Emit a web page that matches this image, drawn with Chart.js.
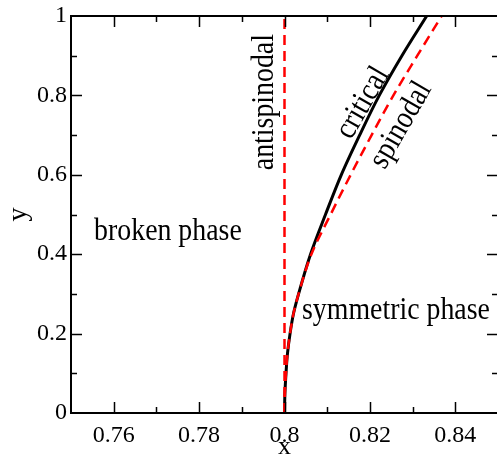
<!DOCTYPE html>
<html>
<head>
<meta charset="utf-8">
<script src="https://cdn.jsdelivr.net/npm/chart.js@4"></script>
<style>
  html, body { margin: 0; padding: 0; background: #fff; overflow: hidden; }
  #box { width: 499px; height: 455px; position: relative; }
</style>
</head>
<body>
<div id="box"><canvas id="grafico"></canvas></div>
<script>
// dados
const valoresY = [0, 0.05, 0.1, 0.15, 0.2, 0.25, 0.3, 0.4, 0.5, 0.6, 0.7, 0.8, 0.9, 1.0];
const criticoX = [0.8000, 0.8001, 0.80035, 0.8007, 0.8013, 0.8021, 0.8033, 0.8061, 0.8096, 0.8133, 0.8176, 0.8222, 0.8275, 0.8333];
const spinodalX = [0.8000, 0.8001, 0.80035, 0.8007, 0.8013, 0.8021, 0.8033, 0.8063, 0.8108, 0.8155, 0.8204, 0.8255, 0.8311, 0.8368];
const antiX = [0.8, 0.8];
const antiY = [0, 1];

// rotulos dentro do grafico (texto, x, y, angulo)
const rotulos = [
  ["broken phase", 0.7727, 0.458, 0],
  ["symmetric phase", 0.8261, 0.257, 0],
  ["antispinodal", 0.7954, 0.783, -90],
  ["critical", 0.8184, 0.781, -60],
  ["spinodal", 0.8273, 0.725, -60]
];

const fonte = "'Liberation Serif', 'Times New Roman', serif";

function pontos(xs, ys) {
  return xs.map((x, i) => ({ x: x, y: ys[i] }));
}

// moldura, marcas para dentro e rotulos
const extras = {
  id: 'extras',
  afterDatasetsDraw(chart) {
    const ctx = chart.ctx;
    const a = chart.chartArea;
    const sx = chart.scales.x;
    const sy = chart.scales.y;
    ctx.save();
    ctx.strokeStyle = '#000';
    ctx.lineWidth = 1.5;
    sx.ticks.forEach(t => {
      const r = Math.round(t.value * 100);
      if (r <= 75 || r >= 85) return;
      const len = r % 2 === 0 ? 11 : 6;
      const px = Math.round(sx.getPixelForValue(t.value)) + 0.5;
      ctx.beginPath();
      ctx.moveTo(px, a.bottom); ctx.lineTo(px, a.bottom - len);
      ctx.moveTo(px, a.top); ctx.lineTo(px, a.top + len);
      ctx.stroke();
    });
    sy.ticks.forEach(t => {
      const r = Math.round(t.value * 10);
      if (r <= 0 || r >= 10) return;
      const len = r % 2 === 0 ? 11 : 6;
      const py = Math.round(sy.getPixelForValue(t.value)) + 0.5;
      ctx.beginPath();
      ctx.moveTo(a.left, py); ctx.lineTo(a.left + len, py);
      ctx.moveTo(a.right, py); ctx.lineTo(a.right - len, py);
      ctx.stroke();
    });
    ctx.lineWidth = 2;
    ctx.strokeRect(a.left, a.top, a.right - a.left, a.bottom - a.top);

    ctx.fillStyle = '#000';
    ctx.font = "32px " + fonte;
    ctx.textAlign = 'center';
    ctx.textBaseline = 'middle';
    rotulos.forEach(r => {
      ctx.save();
      ctx.translate(sx.getPixelForValue(r[1]), sy.getPixelForValue(r[2]));
      ctx.rotate(r[3] * Math.PI / 180);
      ctx.scale(0.87, 1);
      ctx.fillText(r[0], 0, 0);
      ctx.restore();
    });
    ctx.restore();
  }
};

const curva = {
  showLine: true,
  pointRadius: 0,
  cubicInterpolationMode: 'monotone',
  indexAxis: 'y'
};

new Chart(document.getElementById("grafico"), {
  type: 'scatter',
  data: {
    datasets: [
      Object.assign({
        label: 'antispinodal',
        data: pontos(antiX, antiY),
        borderColor: '#ff0000',
        borderWidth: 2.5,
        borderDash: [10, 6]
      }, curva),
      Object.assign({
        label: 'spinodal',
        data: pontos(spinodalX, valoresY),
        borderColor: '#ff0000',
        borderWidth: 2.5,
        borderDash: [10, 6]
      }, curva),
      Object.assign({
        label: 'critical',
        data: pontos(criticoX, valoresY),
        borderColor: '#000000',
        borderWidth: 3
      }, curva)
    ]
  },
  options: {
    responsive: true,
    maintainAspectRatio: false,
    animation: false,
    layout: { padding: { top: 16, right: 1, left: 0, bottom: 0 } },
    plugins: {
      legend: { display: false },
      tooltip: { enabled: false }
    },
    scales: {
      x: {
        type: 'linear',
        min: 0.75,
        max: 0.85,
        grid: { display: false, drawTicks: false },
        border: { display: false },
        afterFit: s => { s.height = 42; s.paddingLeft = 0; s.paddingRight = 0; },
        ticks: {
          stepSize: 0.01,
          autoSkip: false,
          maxRotation: 0,
          padding: 8,
          color: '#000',
          font: { family: fonte, size: 24 },
          callback: v => {
            const r = Math.round(v * 100);
            return (r % 2 === 0) ? String(r / 100) : '';
          }
        },
        title: {
          display: true,
          text: 'x',
          color: '#000',
          font: { family: fonte, size: 26 },
          padding: { top: 0, bottom: -8 }
        }
      },
      y: {
        type: 'linear',
        min: 0,
        max: 1,
        grid: { display: false, drawTicks: false },
        border: { display: false },
        afterFit: s => { s.width = 71; s.paddingTop = 0; s.paddingBottom = 0; },
        ticks: {
          stepSize: 0.1,
          autoSkip: false,
          padding: 4,
          color: '#000',
          font: { family: fonte, size: 24 },
          callback: v => {
            const r = Math.round(v * 10);
            return (r % 2 === 0) ? String(r / 10) : '';
          }
        },
        title: {
          display: true,
          text: 'y',
          color: '#000',
          font: { family: fonte, size: 28 },
          padding: { top: 2, bottom: 0 }
        }
      }
    }
  },
  plugins: [extras]
});
</script>
</body>
</html>
